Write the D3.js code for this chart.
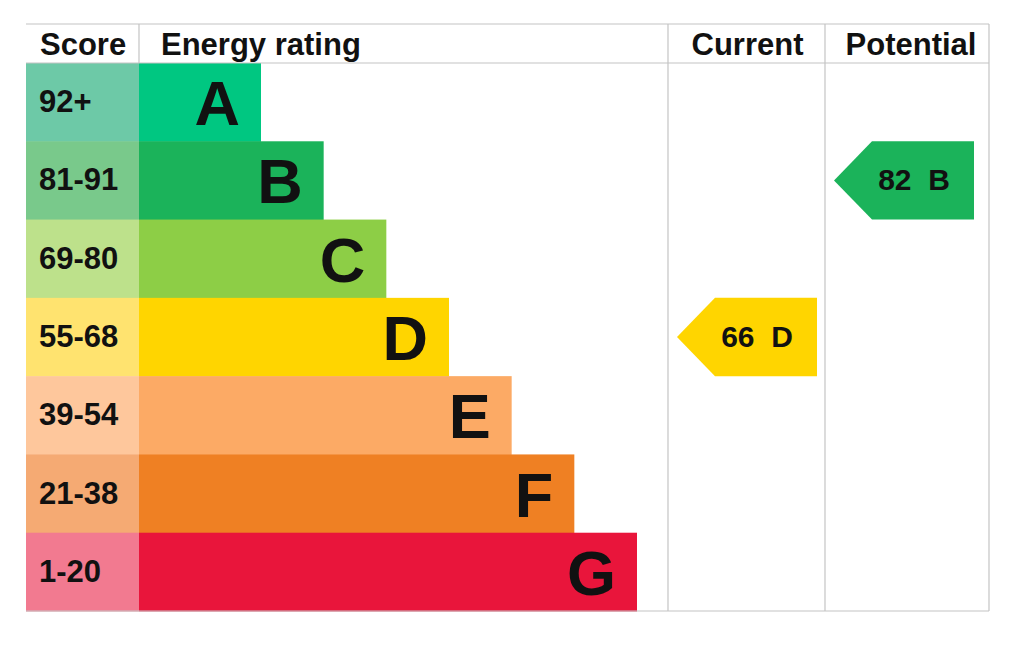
<!DOCTYPE html>
<html>
<head>
<meta charset="utf-8">
<script src="https://cdn.jsdelivr.net/npm/d3@7/dist/d3.min.js"></script>
<style>
	html, body { margin: 0; padding: 0; background: #fff; }
	svg text { font-family: Arial, "Liberation Sans", Helvetica, sans-serif; font-weight: 700; fill: #111; }
</style>
</head>
<body>
<svg id="epc"></svg>
<script>
const bands = ["A", "B", "C", "D", "E", "F", "G"];
const scoreLabels = ["92+", "81-91", "69-80", "55-68", "39-54", "21-38", "1-20"];
const bandMin = [92, 81, 69, 55, 39, 21, 1];
const bandColors = ["#00c781", "#1bb35a", "#8dce46", "#ffd500", "#fcaa65", "#ef8023", "#e9153b"];
const scoreColors = ["#6dc9a7", "#79c98b", "#bde18b", "#ffe36f", "#fec79c", "#f5aa73", "#f27a90"];
const headers = ["Score", "Energy rating", "Current", "Potential"];
const currentScore = 66;
const potentialScore = 82;

const epc = (function() {
	const width = 1024, height = 668;
	const svg = d3.select("#epc")
		.attr("width", width)
		.attr("height", height)
		.attr("viewBox", "0 0 " + width + " " + height);

	const left = 26, right = 989, top = 24, headerBottom = 63, bottom = 611;
	const scoreRight = 139, currentLeft = 668, potentialLeft = 825;
	const gridColor = "#c4c4c4";

	const y = d3.scaleBand()
		.domain(bands)
		.range([headerBottom, bottom]);

	// bar ends step evenly from A to G
	const barEnd = d3.scaleLinear()
		.domain([0, bands.length - 1])
		.range([261, 637]);

	function bandFor(score) {
		return bands[bandMin.findIndex(m => score >= m)];
	}

	function drawGrid() {
		const g = svg.append("g").attr("class", "grid")
			.style("stroke", gridColor)
			.style("stroke-width", "1.2px");
		g.append("line").attr("x1", left).attr("x2", right).attr("y1", top).attr("y2", top);
		g.append("line").attr("x1", left).attr("x2", right).attr("y1", headerBottom).attr("y2", headerBottom);
		g.append("line").attr("x1", left).attr("x2", right).attr("y1", bottom).attr("y2", bottom);
		[scoreRight].forEach(x =>
			g.append("line").attr("x1", x).attr("x2", x).attr("y1", top).attr("y2", headerBottom));
		[currentLeft, potentialLeft, right].forEach(x =>
			g.append("line").attr("x1", x).attr("x2", x).attr("y1", top).attr("y2", bottom));
	}

	function drawHeaders() {
		const pos = [
			{x: 40, anchor: "start"},
			{x: 161, anchor: "start"},
			{x: (currentLeft + potentialLeft) / 2 + 1, anchor: "middle"},
			{x: (potentialLeft + right) / 2 + 4, anchor: "middle"}
		];
		svg.append("g").selectAll("text")
			.data(headers)
			.join("text")
			.attr("x", (d, i) => pos[i].x)
			.attr("y", 55)
			.attr("text-anchor", (d, i) => pos[i].anchor)
			.style("font-size", "31px")
			.text(d => d);
	}

	function drawBands() {
		const rows = svg.append("g").selectAll("g")
			.data(bands)
			.join("g");

		// score column
		rows.append("rect")
			.attr("x", left)
			.attr("y", d => y(d))
			.attr("width", scoreRight - left)
			.attr("height", y.bandwidth() + 0.5)
			.style("fill", (d, i) => scoreColors[i]);

		rows.append("text")
			.attr("x", 39)
			.attr("y", d => y(d) + y.bandwidth() / 2 + 10)
			.style("font-size", "31px")
			.text((d, i) => scoreLabels[i]);

		// rating bar
		rows.append("rect")
			.attr("x", scoreRight)
			.attr("y", d => y(d))
			.attr("width", (d, i) => barEnd(i) - scoreRight)
			.attr("height", y.bandwidth() + 0.5)
			.style("fill", (d, i) => bandColors[i]);

		rows.append("text")
			.attr("x", (d, i) => barEnd(i) - 21)
			.attr("y", d => y(d) + y.bandwidth() / 2 + 23)
			.attr("text-anchor", "end")
			.style("font-size", "63px")
			.text(d => d);
	}

	function drawArrow(score, colLeft) {
		const band = bandFor(score);
		const i = bands.indexOf(band);
		const y0 = y(band), h = y.bandwidth();
		const tipX = colLeft + 9, bodyX = colLeft + 47, endX = colLeft + 149;
		const g = svg.append("g").attr("class", "arrow");
		g.append("path")
			.attr("d", "M " + tipX + " " + (y0 + h / 2)
				+ " L " + bodyX + " " + y0
				+ " L " + endX + " " + y0
				+ " L " + endX + " " + (y0 + h)
				+ " L " + bodyX + " " + (y0 + h) + " Z")
			.style("fill", bandColors[i]);
		g.append("text")
			.attr("x", colLeft + 89)
			.attr("y", y0 + h / 2 + 10)
			.attr("text-anchor", "middle")
			.attr("xml:space", "preserve")
			.style("white-space", "pre")
			.style("font-size", "30px")
			.text(score + "  " + band);
	}

	drawBands();
	drawGrid();
	drawHeaders();
	drawArrow(currentScore, currentLeft);
	drawArrow(potentialScore, potentialLeft);
})();
</script>
</body>
</html>
